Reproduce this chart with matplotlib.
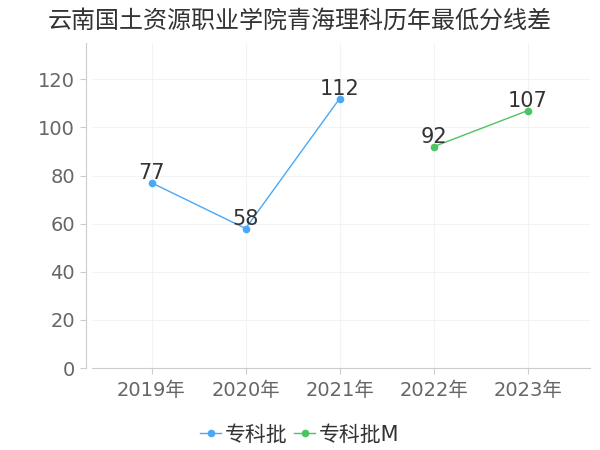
import matplotlib.pyplot as plt

plt.rcParams['font.family'] = ['DejaVu Sans', 'Noto Sans CJK SC']

years = ['2019年', '2020年', '2021年', '2022年', '2023年']
zk_x = [0, 1, 2]
zk_vals = [77, 58, 112]
zkm_x = [3, 4]
zkm_vals = [92, 107]

blue = '#4aa8f5'
green = '#4cc462'

fig = plt.figure(figsize=(6, 4.5), dpi=100)
ax = fig.add_axes([0.153, 0.182, 0.83, 0.722])

ax.plot(zk_x, zk_vals, color=blue, lw=1, marker='o', ms=4.5, label='专科批')
ax.plot(zkm_x, zkm_vals, color=green, lw=1, marker='o', ms=4.5, label='专科批M')

for x, v in zip(zk_x + zkm_x, zk_vals + zkm_vals):
    ax.annotate(str(v), (x, v), xytext=(0, 0), textcoords='offset points',
                ha='center', va='bottom', fontsize=15, color='#333333')

ax.set_xlim(-0.635, 4.66)
ax.set_ylim(0, 135)
ax.set_yticks(range(0, 121, 20))
ax.set_xticks(range(len(years)))
ax.set_xticklabels(years)
ax.tick_params(labelsize=14, length=4)
ax.tick_params(axis='x', colors='#cccccc', labelcolor='#666666', pad=5)
ax.tick_params(axis='y', colors='#cccccc', labelcolor='#666666', pad=4)

ax.grid(True, color='#f3f3f3', lw=0.8)
ax.set_axisbelow(True)
for s in ['top', 'right']:
    ax.spines[s].set_visible(False)
ax.spines['left'].set_color('#cccccc')
ax.spines['bottom'].set_color('#cccccc')
ax.spines['left'].set_position(('outward', 4))

fig.suptitle('云南国土资源职业学院青海理科历年最低分线差', x=0.5, y=0.98,
             fontsize=17.3, color='#333333')

fig.legend(loc='lower center', bbox_to_anchor=(0.5, -0.03), ncol=2, frameon=False,
           fontsize=15, handlelength=1.0, handletextpad=0.2, columnspacing=0.3,
           labelcolor='#333333')

fig.savefig('out.png', dpi=100)
